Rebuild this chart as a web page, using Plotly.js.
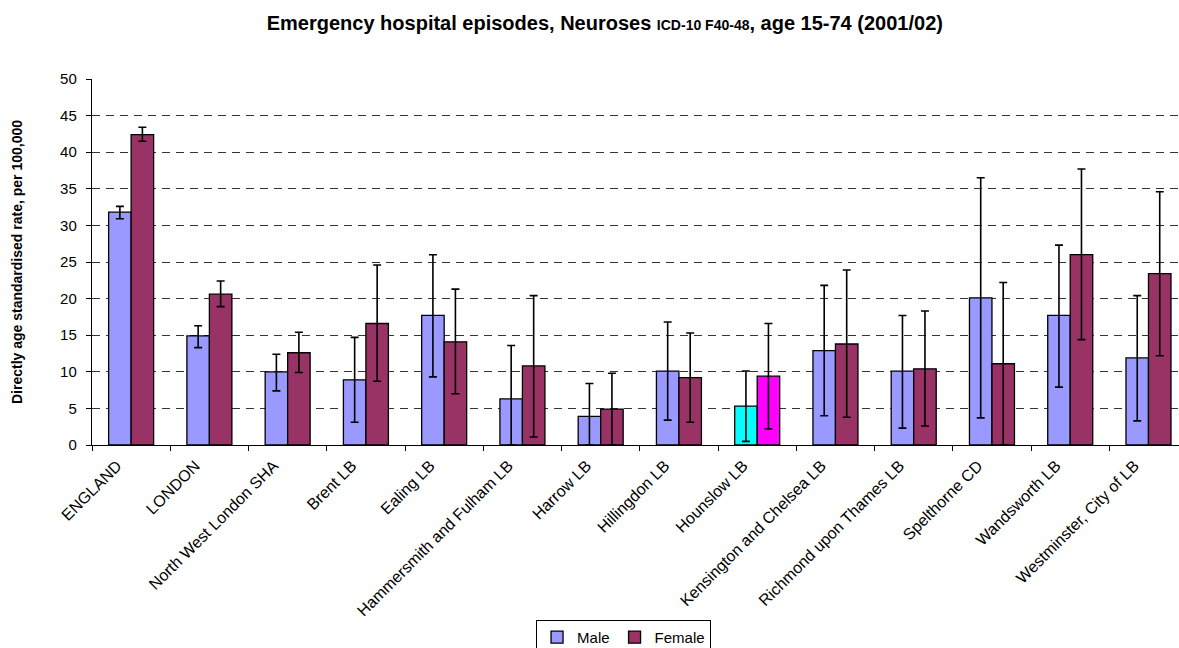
<!DOCTYPE html>
<html>
<head>
<meta charset="utf-8">
<script src="https://cdn.plot.ly/plotly-3.0.1.min.js"></script>
<style>
  html, body { margin: 0; padding: 0; background: #fff; overflow: hidden; }
  /* the reference is cropped through its legend, so the figure runs past the bottom edge */
  #wrap { width: 1179px; height: 648px; overflow: hidden; }
</style>
</head>
<body>
<div id="wrap"><div id="chart"></div></div>
<script>
// -- Data ---------------------------------------------------------------------
const areas = [
  'ENGLAND', 'LONDON', 'North West London SHA', 'Brent LB', 'Ealing LB',
  'Hammersmith and Fulham LB', 'Harrow LB', 'Hillingdon LB', 'Hounslow LB',
  'Kensington and Chelsea LB', 'Richmond upon Thames LB', 'Spelthorne CD',
  'Wandsworth LB', 'Westminster, City of LB'
];

const maleRate  = [31.8, 14.9, 10.0, 8.9, 17.7, 6.3, 3.9, 10.1, 5.3, 12.9, 10.1, 20.1, 17.7, 11.9];
const maleLow   = [30.9, 13.3, 7.4, 3.1, 9.3, 0.0, 0.0, 3.4, 0.5, 4.0, 2.3, 3.7, 7.9, 3.3];
const maleHigh  = [32.6, 16.3, 12.4, 14.7, 26.0, 13.6, 8.4, 16.8, 10.1, 21.8, 17.7, 36.5, 27.3, 20.4];

const femaleRate = [42.4, 20.6, 12.6, 16.6, 14.1, 10.8, 4.9, 9.2, 9.4, 13.8, 10.4, 11.1, 26.0, 23.4];
const femaleLow  = [41.5, 18.9, 9.9, 8.7, 7.0, 1.1, 0.0, 3.1, 2.2, 3.8, 2.6, 0.0, 14.4, 12.2];
const femaleHigh = [43.4, 22.4, 15.4, 24.6, 21.3, 20.4, 9.8, 15.3, 16.6, 23.9, 18.3, 22.2, 37.7, 34.6];

// -- Colours ------------------------------------------------------------------
const MALE = '#9999ff';
const FEMALE = '#993366';
// the highlighted area gets its own pair of colours
const highlight = 'Hounslow LB';
const maleColors = areas.map(a => a === highlight ? '#00ffff' : MALE);
const femaleColors = areas.map(a => a === highlight ? '#ff00ff' : FEMALE);

function errBar(rate, low, high) {
  return {
    type: 'data',
    symmetric: false,
    array: high.map((h, i) => h - rate[i]),
    arrayminus: low.map((l, i) => rate[i] - l),
    color: '#000',
    thickness: 1.6,
    width: 4,
  };
}

const traceMale = {
  x: areas, y: maleRate,
  type: 'bar',
  name: 'Male',
  marker: { color: maleColors, line: { color: '#000', width: 1.3 } },
  error_y: errBar(maleRate, maleLow, maleHigh),
};

const traceFemale = {
  x: areas, y: femaleRate,
  type: 'bar',
  name: 'Female',
  marker: { color: femaleColors, line: { color: '#000', width: 1.3 } },
  error_y: errBar(femaleRate, femaleLow, femaleHigh),
};

const FONT = 'Arial, "Liberation Sans", sans-serif';
const H = 662;

const layout = {
  width: 1179,
  height: H,
  paper_bgcolor: '#fff',
  plot_bgcolor: '#fff',
  font: { family: FONT, color: '#000', size: 14 },
  margin: { l: 92, r: 0, t: 79, b: H - 445.5 },
  barmode: 'group',
  bargap: 0.425,
  bargroupgap: 0,
  title: {
    text: '<b>Emergency hospital episodes, Neuroses <span style="font-size:14px">ICD-10 F40-48</span>, age 15-74 (2001/02)</b>',
    font: { family: FONT, size: 20, color: '#000' },
    xref: 'container', x: 0.513, xanchor: 'center',
    yref: 'container', y: 1 - 23 / H, yanchor: 'middle',
  },
  xaxis: {
    type: 'category',
    range: [-0.5, 13.39],
    tickangle: -45,
    tickfont: { size: 16 },
    ticklabelshift: -14,
    ticklabelstandoff: 4,
    ticks: 'outside',
    tickson: 'boundaries',
    ticklen: 5,
    tickcolor: '#000',
    showline: true,
    linecolor: '#000',
    linewidth: 1.2,
    showgrid: false,
    zeroline: false,
    automargin: false,
  },
  yaxis: {
    range: [0, 50],
    dtick: 5,
    tickfont: { size: 15 },
    ticks: 'outside',
    ticklen: 5,
    tickcolor: '#000',
    ticklabelstandoff: 6,
    showline: true,
    linecolor: '#000',
    linewidth: 1.2,
    showgrid: true,
    gridcolor: '#333',
    griddash: '8px,6px',
    gridwidth: 1,
    zeroline: false,
    automargin: false,
    title: {
      text: '<b>Directly age standardised rate, per 100,000</b>',
      font: { family: FONT, size: 14, color: '#000' },
      standoff: 34,
    },
  },
  showlegend: true,
  legend: {
    orientation: 'h',
    xref: 'paper', x: 0.489, xanchor: 'center',
    yref: 'paper', y: -0.478, yanchor: 'top',
    bordercolor: '#000',
    borderwidth: 1,
    bgcolor: '#fff',
    font: { family: FONT, size: 15, color: '#000' },
    itemwidth: 30,
    tracegroupgap: 0,
  },
};

Plotly.newPlot('chart', [traceMale, traceFemale], layout,
  { displayModeBar: false, staticPlot: true });
</script>
</body>
</html>
